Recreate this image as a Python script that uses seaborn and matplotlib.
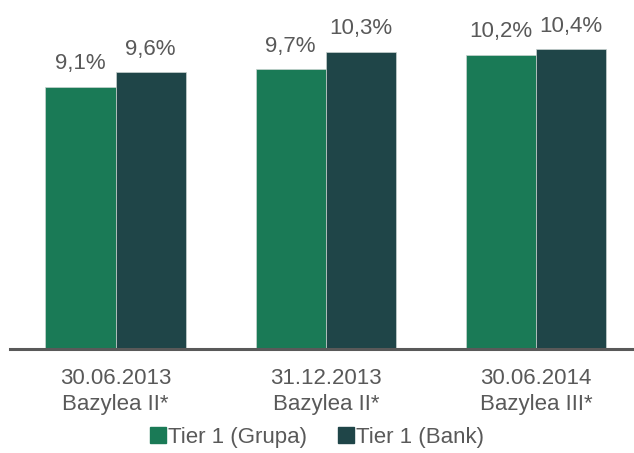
import matplotlib
matplotlib.use("Agg")
import matplotlib.pyplot as plt
import pandas as pd
import seaborn as sns

periods = ["30.06.2013\nBazylea II*", "31.12.2013\nBazylea II*", "30.06.2014\nBazylea III*"]
grupa = [9.1, 9.7, 10.2]
bank = [9.6, 10.3, 10.4]
series_names = ["Tier 1 (Grupa)", "Tier 1 (Bank)"]
colors = ["#1a7a56", "#1f4548"]
text_col = "#595959"

df = pd.DataFrame({
    "okres": periods * 2,
    "wartosc": grupa + bank,
    "seria": [series_names[0]] * 3 + [series_names[1]] * 3,
})

sns.set_style("white")
plt.rcParams["font.family"] = ["Liberation Sans", "DejaVu Sans"]

fig = plt.figure(figsize=(6.34, 4.53), dpi=100)
ax = fig.add_axes([10 / 634, 104 / 453, 624 / 634, 349 / 453])

sns.barplot(data=df, x="okres", y="wartosc", hue="seria", palette=colors,
            saturation=1, width=0.667, gap=0, edgecolor="#c9d3d0",
            linewidth=0.5, ax=ax)

for cont in ax.containers:
    ax.bar_label(cont, labels=[f"{v:.1f}%".replace(".", ",") for v in cont.datavalues],
                 padding=9, fontsize=16, color=text_col)

ax.set_ylim(0, 12.1)
ax.set_xlim(-0.502, 2.466)
ax.set_xlabel("")
ax.set_ylabel("")
ax.set_yticks([])
for s in ["top", "right", "left"]:
    ax.spines[s].set_visible(False)
ax.spines["bottom"].set_color(text_col)
ax.spines["bottom"].set_linewidth(2.2)
ax.tick_params(axis="x", length=0, pad=14, labelsize=16, labelcolor=text_col)
for lbl in ax.get_xticklabels():
    lbl.set_linespacing(1.3)

ax.get_legend().remove()
handles = [plt.Rectangle((0, 0), 1, 1, color=c) for c in colors]
fig.legend(handles, series_names, loc="center", bbox_to_anchor=(0.5, 16 / 453),
           ncol=2, frameon=False, fontsize=16, labelcolor=text_col,
           handlelength=0.7, handleheight=0.7, handletextpad=0.1,
           columnspacing=1.4, borderaxespad=0)

fig.savefig("out.png", dpi=100)
